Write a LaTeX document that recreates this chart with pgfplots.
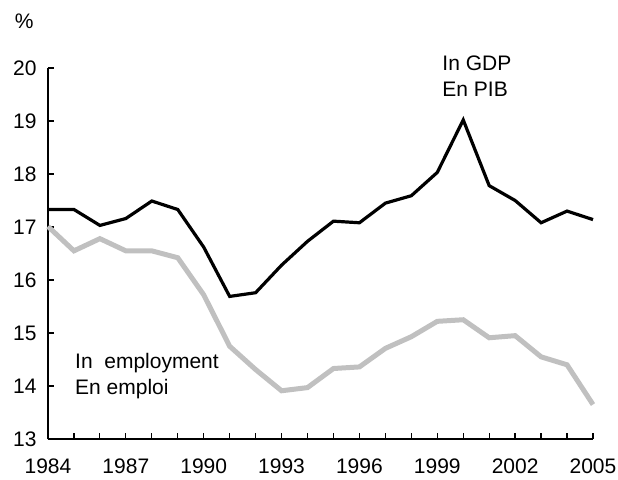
\documentclass[border=0pt]{standalone}
\usepackage{fontspec}
\setmainfont{Liberation Sans}
\usepackage{pgfplots}
\pgfplotsset{compat=1.18}

\definecolor{gdpline}{RGB}{0,0,0}
\definecolor{empline}{RGB}{192,192,192}

\pgfplotstableread{
year gdp emp
1984 17.33 17.01
1985 17.33 16.55
1986 17.03 16.78
1987 17.16 16.55
1988 17.49 16.55
1989 17.33 16.42
1990 16.62 15.72
1991 15.69 14.75
1992 15.76 14.31
1993 16.28 13.91
1994 16.73 13.97
1995 17.11 14.33
1996 17.08 14.36
1997 17.45 14.71
1998 17.59 14.93
1999 18.03 15.22
2000 19.02 15.25
2001 17.78 14.91
2002 17.50 14.95
2003 17.08 14.55
2004 17.30 14.40
2005 17.14 13.65
}\datatable

\begin{document}
\begin{tikzpicture}[font=\fontsize{21}{26}\selectfont]
\begin{axis}[
  name=ax,
  scale only axis,
  width=545pt, height=371pt,
  xmin=1984, xmax=2005,
  ymin=13, ymax=20,
  axis x line*=bottom,
  axis y line*=left,
  axis line style={line width=1.2pt, -},
  tick align=inside,
  tick style={line width=1.2pt, black},
  major tick length=6pt,
  minor tick length=6pt,
  xtick={1984,1987,...,2005},
  minor xtick={1984,...,2005},
  ytick={13,...,20},
  /pgf/number format/1000 sep={},
  /pgf/number format/assume math mode=true,
  xticklabel style={yshift=-16pt},
  yticklabel style={xshift=-8pt},
  clip=false,
]
\addplot[empline, line width=5pt] table[x=year, y=emp] {\datatable};
\addplot[gdpline, line width=3.2pt] table[x=year, y=gdp] {\datatable};

\node[anchor=base west, inner sep=0pt] at (axis cs:1999.19,19.956) {In GDP};
\node[anchor=base west, inner sep=0pt] at (axis cs:1999.19,19.467) {En PIB};
\node[anchor=base west, inner sep=0pt] at (axis cs:1985.04,14.33) {In\ \ employment};
\node[anchor=base west, inner sep=0pt] at (axis cs:1985.04,13.84) {En emploi};
\node[inner sep=0pt] at (axis cs:1983.08,20.88) {\%};
\end{axis}
\pgfresetboundingbox
\path ([xshift=-48pt,yshift=-40pt]ax.south west) rectangle ([xshift=25pt,yshift=68pt]ax.north east);
\end{tikzpicture}
\end{document}
